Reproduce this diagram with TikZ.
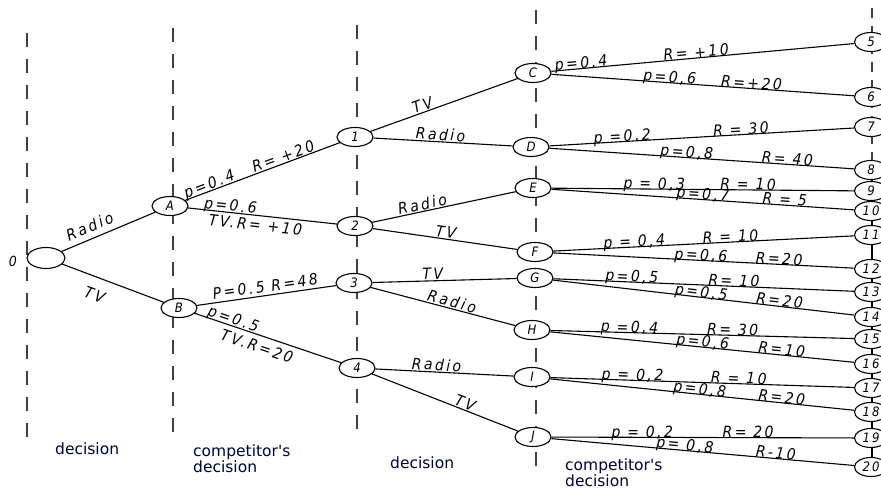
\documentclass[tikz,border=0pt]{standalone}
\usepackage{fontspec}
\newfontfamily\hand[FakeStretch=0.9, LetterSpace=16.0]{DejaVu Sans}
\newfontfamily\capfont{DejaVu Sans}
\usetikzlibrary{shapes.geometric}
\begin{document}
\begin{tikzpicture}[x=1pt,y=-1pt,
  st/.style={draw, ellipse, line width=1.1pt, minimum width=36pt, minimum height=19pt,
             inner sep=0pt, fill=white, font=\hand\itshape\fontsize{13}{14}\selectfont},
  term/.style={st, minimum width=33pt, minimum height=19pt},
  br/.style={line width=1.1pt},
  lab/.style={sloped, inner sep=1pt, text depth=0pt, font=\hand\itshape\fontsize{15.5}{16}\selectfont},
  rl/.style={lab, above=-1.5pt},
  sep/.style={line width=1.8pt, black!75, dash pattern=on 14pt off 12pt},
  captxt/.style={font=\capfont\fontsize{15.5}{15}\selectfont, text=black!80!blue, align=left, anchor=north west, inner sep=0pt}]
\useasboundingbox (0,0) rectangle (881,490);

% separator lines
\coordinate (s1t) at (27,33);  \coordinate (s1b) at (27,442);
\coordinate (s2t) at (173,28); \coordinate (s2b) at (173,442);
\coordinate (s3t) at (357,25); \coordinate (s3b) at (357,436);
\coordinate (s4t) at (536,10); \coordinate (s4b) at (536,466);
\coordinate (s5t) at (872,8);
\draw[sep] (s1t) -- (s1b);
\draw[sep] (s2t) -- (s2b);
\draw[sep] (s3t) -- (s3b);
\draw[sep] (s4t) -- (s4b);

% nodes
\node[st, minimum width=38pt, minimum height=21pt] (n0) at (46,258) {};
\node[font=\hand\itshape\fontsize{14}{15}\selectfont] (l0) at (13,261) {0};
\node[st] (A) at (170,206) {A};
\node[st] (B) at (179,308) {B};
\node[st] (n1) at (355,137) {1};
\node[st] (n2) at (355,226) {2};
\node[st] (n3) at (354,283) {3};
\node[st] (n4) at (357,368) {4};
\node[st] (C) at (533,73) {C};
\node[st] (D) at (531,147) {D};
\node[st] (E) at (533,188) {E};
\node[st] (F) at (535,252) {F};
\node[st] (G) at (535,278) {G};
\node[st] (H) at (532,330) {H};
\node[st] (I) at (532,377) {I};
\node[st] (J) at (533,437) {J};

% right column line (drawn before terminals)
\coordinate (t8c) at (872,170);
\coordinate (t20c) at (872,467);
\draw[sep, line width=1.4pt, dash pattern=on 10pt off 8pt] (s5t) -- (t8c);
\draw[br] (t8c) -- (t20c);

\foreach \k/\y in {5/42,6/97,7/127,8/170,9/191,10/211,11/235,12/269,13/292,14/317,15/339,16/364,17/388,18/412,19/438,20/467}
  \node[term] (t\k) at (871,\y) {\k};

% first level
\draw[br] (n0) -- node[lab, above=5pt, pos=0.35] {Radio} (A);
\draw[br] (n0) -- node[lab, below=10pt, pos=0.38] {TV} (B);

% second level
\draw[br] (A) -- node[lab, above, pos=0.17] {p=0.4} node[lab, above, pos=0.65] {R= +20} (n1);
\draw[br] (A) -- node[lab, above, pos=0.28] {p=0.6} node[lab, below=2pt, pos=0.46] {TV.R= +10} (n2);
\draw[br] (B) -- node[lab, above=2pt, pos=0.5] {P=0.5 R=48} (n3);
\draw[br] (B) -- node[lab, above, pos=0.25] {p=0.5} node[lab, below=4pt, pos=0.45] {TV.R=20} (n4);

% third level
\draw[br] (n1) -- node[lab, above, pos=0.37] {TV} (C);
\draw[br] (n1) -- node[lab, above, pos=0.48] {Radio} (D);
\draw[br] (n2) -- node[lab, above, pos=0.36] {Radio} (E);
\draw[br] (n2) -- node[lab, above, pos=0.5] {TV} (F);
\draw[br] (n3) -- node[lab, above, pos=0.42] {TV} (G);
\draw[br] (n3) -- node[lab, above, pos=0.55] {Radio} (H);
\draw[br] (n4) -- node[lab, above, pos=0.44] {Radio} (I);
\draw[br] (n4) -- node[lab, above, pos=0.62] {TV} (J);

% fourth level
\draw[br] (C) -- node[rl, pos=0.10] {p=0.4} node[rl, pos=0.48] {R= +10} (t5);
\draw[br] (C) -- node[rl, pos=0.39] {p=0,6} node[rl, pos=0.66] {R=+20} (t6);
\draw[br] (D) -- node[rl, pos=0.24] {p =0.2} node[rl, pos=0.63] {R = 30} (t7);
\draw[br] (D) -- node[rl, pos=0.45] {p=0,8} node[rl, pos=0.78] {R= 40} (t8);
\draw[br] (E) -- node[rl, pos=0.34] {p = 0,3} node[rl, pos=0.65] {R = 10} (t9);
\draw[br] (E) -- node[rl, pos=0.50] {p=0,7} node[rl, pos=0.77] {R = 5} (t10);
\draw[br] (F) -- node[rl, pos=0.27] {p = 0,4} node[rl, pos=0.59] {R = 10} (t11);
\draw[br] (F) -- node[rl, pos=0.49] {p=0,6} node[rl, pos=0.75] {R=20} (t12);
\draw[br] (G) -- node[rl, pos=0.26] {p=0,5} node[rl, pos=0.60] {R= 10} (t13);
\draw[br] (G) -- node[rl, pos=0.49] {p=0,5} node[rl, pos=0.75] {R=20} (t14);
\draw[br] (H) -- node[rl, pos=0.26] {p =0,4} node[rl, pos=0.60] {R= 30} (t15);
\draw[br] (H) -- node[rl, pos=0.50] {p=0,6} node[rl, pos=0.76] {R=10} (t16);
\draw[br] (I) -- node[rl, pos=0.27] {p = 0,2} node[rl, pos=0.62] {R = 10} (t17);
\draw[br] (I) -- node[rl, pos=0.49] {p=0,8} node[rl, pos=0.76] {R=20} (t18);
\draw[br] (J) -- node[rl, pos=0.30] {p = 0,2} node[rl, pos=0.65] {R= 20} (t19);
\draw[br] (J) -- node[rl, pos=0.44] {p= 0,8} node[rl, pos=0.74] {R-10} (t20);

% captions
\node[captxt] (c1) at (55,443) {decision};
\node[captxt] (c2) at (193,445) {competitor's\\decision};
\node[captxt] (c3) at (390,457) {decision};
\node[captxt] (c4) at (565,459) {competitor's\\decision};
\end{tikzpicture}
\end{document}
